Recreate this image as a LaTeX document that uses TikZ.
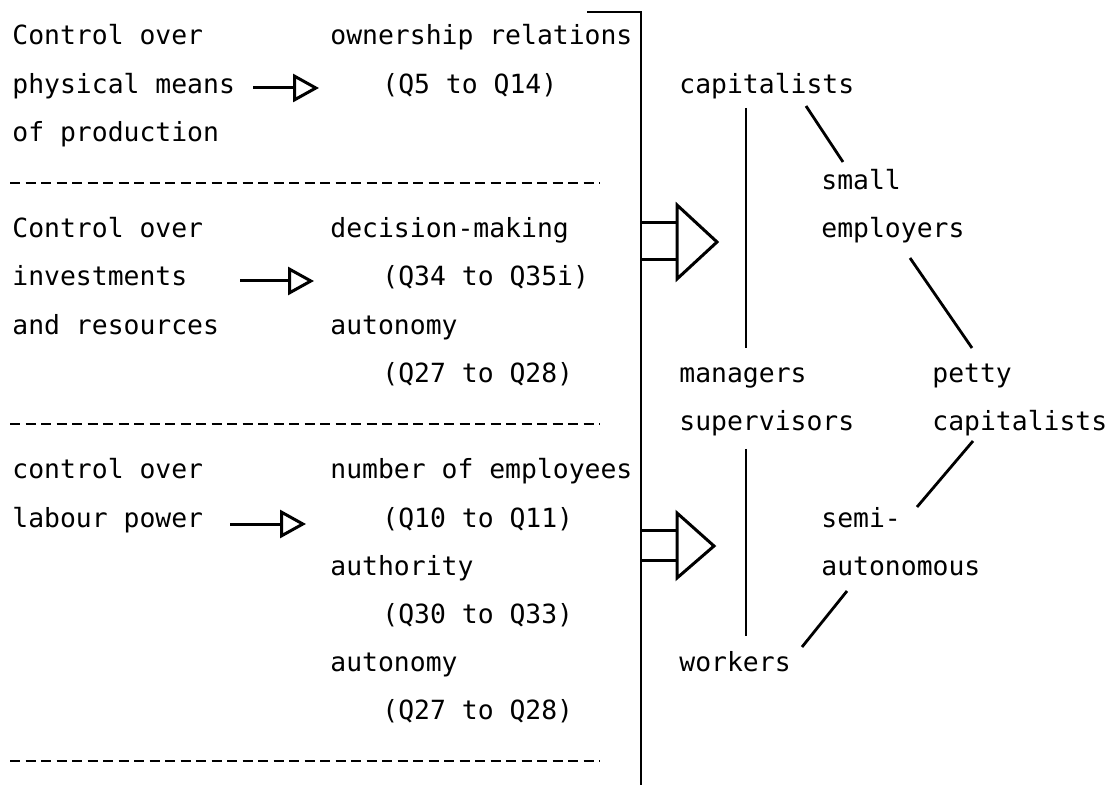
\documentclass[tikz,border=0pt]{standalone}
\usepackage{fontspec}
\setmainfont{DejaVu Sans Mono}
\usetikzlibrary{arrows.meta}
\begin{document}
\begin{tikzpicture}[x=0.5pt,y=-0.5pt,
  txt/.style={anchor=base west,inner sep=0pt,font=\fontsize{13.2}{15}\selectfont},
  rule/.style={line width=1.4pt,dash pattern=on 5pt off 2.75pt},
  link/.style={line width=1.4pt},
  pointer/.style={line width=1.5pt,-{Triangle[open,length=13pt,width=14pt,line width=1.5pt]}},
  bigarrow/.style={line width=1.5pt,line join=miter}]
\useasboundingbox (0,0) rectangle (1107,785);

% left column: kinds of control
\node[txt] (c1a) at (12,45)    {Control over};
\node[txt] (c1b) at (12,93.2)  {physical means};
\node[txt] (c1c) at (12,141.4) {of production};
\node[txt] (c2a) at (12,237.8) {Control over};
\node[txt] (c2b) at (12,286)   {investments};
\node[txt] (c2c) at (12,334.2) {and resources};
\node[txt] (c3a) at (12,478.8) {control over};
\node[txt] (c3b) at (12,527)   {labour power};

% middle column: indicators and questionnaire items
\node[txt] (m1)  at (330,45)    {ownership relations};
\node[txt] (q1)  at (382,93.2)  {(Q5 to Q14)};
\node[txt] (m2)  at (330,237.8) {decision-making};
\node[txt] (q2)  at (382,286)   {(Q34 to Q35i)};
\node[txt] (m3)  at (330,334.2) {autonomy};
\node[txt] (q3)  at (382,382.4) {(Q27 to Q28)};
\node[txt] (m4)  at (330,478.8) {number of employees};
\node[txt] (q4)  at (382,527)   {(Q10 to Q11)};
\node[txt] (m5)  at (330,575.2) {authority};
\node[txt] (q5)  at (382,623.4) {(Q30 to Q33)};
\node[txt] (m6)  at (330,671.6) {autonomy};
\node[txt] (q6)  at (382,719.8) {(Q27 to Q28)};

% separators
\coordinate (s1a) at (10,183);  \coordinate (s1b) at (600,183);
\coordinate (s2a) at (10,424);  \coordinate (s2b) at (600,424);
\coordinate (s3a) at (10,761);  \coordinate (s3b) at (600,761);
\draw[rule] (s1a) -- (s1b);
\draw[rule] (s2a) -- (s2b);
\draw[rule] (s3a) -- (s3b);

% small arrows
\coordinate (p1s) at (253,88);  \coordinate (p1e) at (319,88);
\coordinate (p2s) at (240,281); \coordinate (p2e) at (314,281);
\coordinate (p3s) at (230,524); \coordinate (p3e) at (306,524);
\draw[pointer] (p1s) -- (p1e);
\draw[pointer] (p2s) -- (p2e);
\draw[pointer] (p3s) -- (p3e);

% bracket
\coordinate (bt) at (587,12); \coordinate (bc) at (641,12); \coordinate (bb) at (641,785);
\draw[link,line join=miter] (bt) -- (bc) -- (bb);

% block arrows
\draw[bigarrow] (641,223) -- (677,223) (641,260) -- (677,260);
\draw[bigarrow] (677,205) -- (717,242) -- (677,279) -- cycle;
\draw[bigarrow] (641,530) -- (677,530) (641,560) -- (677,560);
\draw[bigarrow] (677,513) -- (714,546) -- (677,578) -- cycle;

% right side: class locations
\node[txt] (cap)  at (679,93.2)  {capitalists};
\node[txt] (sm1)  at (821,189.6) {small};
\node[txt] (sm2)  at (821,237.8) {employers};
\node[txt] (mgr)  at (679,382.4) {managers};
\node[txt] (sup)  at (679,430.6) {supervisors};
\node[txt] (pc1)  at (932,382.4) {petty};
\node[txt] (pc2)  at (932,430.6) {capitalists};
\node[txt] (sa1)  at (821,527)   {semi-};
\node[txt] (sa2)  at (821,575.2) {autonomous};
\node[txt] (wrk)  at (679,671.6) {workers};

\coordinate (l1a) at (746,108); \coordinate (l1b) at (746,348);
\coordinate (l2a) at (806,106); \coordinate (l2b) at (843,162);
\coordinate (l3a) at (910,258); \coordinate (l3b) at (972,348);
\coordinate (l4a) at (746,449); \coordinate (l4b) at (746,636);
\coordinate (l5a) at (973,441); \coordinate (l5b) at (917,507);
\coordinate (l6a) at (847,591); \coordinate (l6b) at (802,647);
\draw[link] (l1a) -- (l1b);
\draw[link] (l2a) -- (l2b);
\draw[link] (l3a) -- (l3b);
\draw[link] (l4a) -- (l4b);
\draw[link] (l5a) -- (l5b);
\draw[link] (l6a) -- (l6b);
\end{tikzpicture}
\end{document}
